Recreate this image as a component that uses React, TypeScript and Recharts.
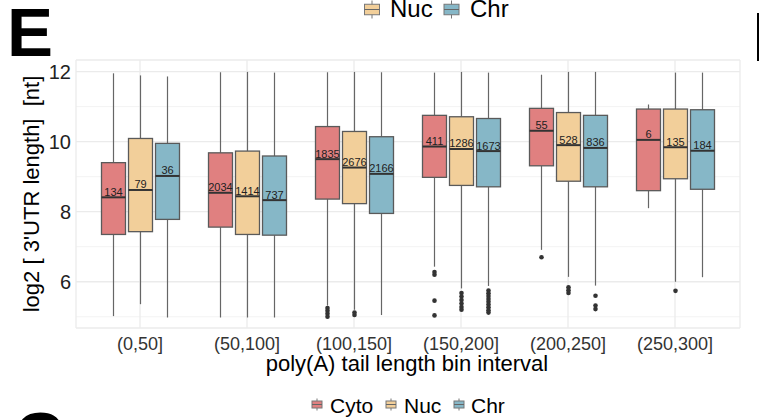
import React from 'react';
import { ComposedChart, Bar, XAxis, YAxis, CartesianGrid } from 'recharts';

const bins = ['(0,50]', '(50,100]', '(100,150]', '(150,200]', '(200,250]', '(250,300]'];
const groups = ['Cyto', 'Nuc', 'Chr'];
const groupColors = ['#E08080', '#F2CF9A', '#86B7C7'];
const yTicks = [6, 8, 10, 12];
const yMinorTicks = [5, 7, 9, 11];

// [lower whisker, Q1, median, Q3, upper whisker]
const cytoBoxes = [
  [5.02, 7.35, 8.41, 9.4, 11.95],
  [4.98, 7.56, 8.54, 9.68, 11.98],
  [5.32, 8.36, 9.5, 10.43, 11.98],
  [6.43, 8.98, 9.86, 10.75, 11.97],
  [6.91, 9.31, 10.31, 10.95, 11.91],
  [8.1, 8.6, 10.05, 10.93, 11.06],
];
const nucBoxes = [
  [5.36, 7.43, 8.62, 10.09, 11.89],
  [4.98, 7.35, 8.44, 9.73, 11.99],
  [5.2, 8.23, 9.26, 10.29, 11.99],
  [5.81, 8.75, 9.79, 10.71, 11.99],
  [6.14, 8.87, 9.9, 10.83, 11.99],
  [6.0, 8.94, 9.84, 10.93, 11.97],
];
const chrBoxes = [
  [4.98, 7.78, 9.02, 9.95, 11.86],
  [4.98, 7.33, 8.33, 9.59, 11.97],
  [5.05, 7.95, 9.08, 10.14, 11.98],
  [5.88, 8.71, 9.73, 10.66, 11.97],
  [5.89, 8.71, 9.82, 10.75, 11.99],
  [6.13, 8.64, 9.74, 10.91, 11.97],
];

const cytoCounts = [134, 2034, 1835, 411, 55, 6];
const nucCounts = [79, 1414, 2676, 1286, 528, 135];
const chrCounts = [36, 737, 2166, 1673, 836, 184];

const cytoOutliers = [[], [], [5.25, 5.17, 5.09, 5.0], [6.28, 6.2, 5.46, 5.04], [6.7], []];
const nucOutliers = [[], [], [5.12, 5.05], [5.68, 5.58, 5.48, 5.38, 5.28, 5.2], [5.84, 5.76, 5.68], [5.74]];
const chrOutliers = [[], [], [], [5.75, 5.67, 5.59, 5.51, 5.43, 5.35, 5.27, 5.19, 5.12], [5.6, 5.32, 5.22], []];

const boxes = [cytoBoxes, nucBoxes, chrBoxes];
const counts = [cytoCounts, nucCounts, chrCounts];
const outliers = [cytoOutliers, nucOutliers, chrOutliers];

const FONT = '"Liberation Sans", Arial, Helvetica, sans-serif';

const data = bins.map((bin, i) => {
  const row: any = { bin };
  groups.forEach((g, k) => {
    const b = boxes[k][i];
    row[g] = [b[0], b[4]];
    row[g + 'Box'] = b;
    row[g + 'N'] = counts[k][i];
    row[g + 'Out'] = outliers[k][i];
  });
  return row;
});

// the bar covers whisker-to-whisker, so the box parts are placed on the same linear scale
const BoxShape = (props: any) => {
  const { x, y, width, height, payload, series, color } = props;
  const stats = payload[series + 'Box'];
  const lo = stats[0];
  const hi = stats[4];
  const top = Math.min(y, y + height);
  const bottom = Math.max(y, y + height);
  const py = (v: number) => top + ((hi - v) / (hi - lo)) * (bottom - top);
  const cx = x + width / 2;
  const q1 = py(stats[1]);
  const med = py(stats[2]);
  const q3 = py(stats[3]);
  return (
    <g>
      <line x1={cx} x2={cx} y1={top} y2={q3} stroke="#666" strokeWidth={1.2} />
      <line x1={cx} x2={cx} y1={q1} y2={bottom} stroke="#666" strokeWidth={1.2} />
      <rect x={x} y={q3} width={width} height={q1 - q3} fill={color} stroke="#5a5a5a" strokeWidth={1.3} />
      <line x1={x} x2={x + width} y1={med} y2={med} stroke="#333" strokeWidth={2} />
      <text x={cx} y={med - 1.5} textAnchor="middle" fontSize={11} fill="#222" fontFamily={FONT}>
        {payload[series + 'N']}
      </text>
      {payload[series + 'Out'].map((v: number, j: number) => (
        <circle key={j} cx={cx} cy={py(v)} r={2.3} fill="#333" />
      ))}
    </g>
  );
};

const LegendKey = ({ cx, cy, color, s }: any) => (
  <g>
    <line x1={cx} x2={cx} y1={cy - 6 * s} y2={cy + 6 * s} stroke="#777" strokeWidth={1} />
    <rect x={cx - 5 * s} y={cy - 3.5 * s} width={10 * s} height={7 * s} fill={color} stroke="#777" strokeWidth={1} />
    <line x1={cx - 5 * s} x2={cx + 5 * s} y1={cy} y2={cy} stroke="#666" strokeWidth={1} />
  </g>
);

const bottomKeyX = [317, 391, 459];
const bottomTextX = [330, 404, 471];

export default function App() {
  return (
    <div style={{ position: 'absolute', left: 0, top: 0, width: 759, height: 420, background: '#fff', fontFamily: FONT }}>
      <ComposedChart
        width={759}
        height={420}
        data={data}
        margin={{ top: 60, right: 19, bottom: 62, left: 0 }}
        barSize={24}
        barGap={3}
      >
        <CartesianGrid vertical={false} horizontalValues={yMinorTicks} stroke="#F3F3F3" strokeWidth={1} />
        <CartesianGrid stroke="#EBEBEB" strokeWidth={1.3} />
        <XAxis
          dataKey="bin"
          axisLine={false}
          tickLine={false}
          height={30}
          tickSize={6}
          tickMargin={3.5}
          padding={{ left: 10.5, right: 11.5 }}
          tick={{ fontSize: 18, fill: '#333', fontFamily: FONT }}
        />
        <YAxis
          type="number"
          domain={[4.68, 12.33]}
          allowDataOverflow
          ticks={yTicks}
          width={76}
          axisLine={false}
          tickLine={false}
          tickSize={3}
          tickMargin={2}
          tick={{ fontSize: 20, fill: '#222', fontFamily: FONT }}
        />
        {groups.map((g, k) => (
          <Bar
            key={g}
            dataKey={g}
            isAnimationActive={false}
            shape={(p: any) => <BoxShape {...p} series={g} color={groupColors[k]} />}
          />
        ))}
      </ComposedChart>
      <svg width={759} height={420} style={{ position: 'absolute', left: 0, top: 0, pointerEvents: 'none' }}>
        <text x={7} y={56} fontSize={69} fontWeight="bold" fill="#000" fontFamily={FONT}>E</text>
        <text x={14} y={460} fontSize={69} fontWeight="bold" fill="#000" fontFamily={FONT}>C</text>
        <rect x={757} y={13} width={2} height={48} fill="#000" />
        <text
          x={38.5}
          y={194}
          transform="rotate(-90, 38.5, 194)"
          textAnchor="middle"
          fontSize={22}
          fill="#000"
          fontFamily={FONT}
          style={{ whiteSpace: 'pre' }}
        >
          {"log2 [ 3'UTR length]  [nt]"}
        </text>
        <text x={407} y={370.5} textAnchor="middle" fontSize={22} fill="#000" fontFamily={FONT}>
          poly(A) tail length bin interval
        </text>
        <LegendKey cx={372} cy={9.5} color={groupColors[1]} s={1.5} />
        <text x={390} y={17} fontSize={24} fill="#000" fontFamily={FONT}>{groups[1]}</text>
        <LegendKey cx={451.5} cy={9.5} color={groupColors[2]} s={1.5} />
        <text x={470} y={17} fontSize={24} fill="#000" fontFamily={FONT}>{groups[2]}</text>
        {groups.map((g, k) => (
          <g key={g}>
            <LegendKey cx={bottomKeyX[k]} cy={404.5} color={groupColors[k]} s={1} />
            <text x={bottomTextX[k]} y={413} fontSize={21} fill="#000" fontFamily={FONT}>{g}</text>
          </g>
        ))}
      </svg>
    </div>
  );
}
